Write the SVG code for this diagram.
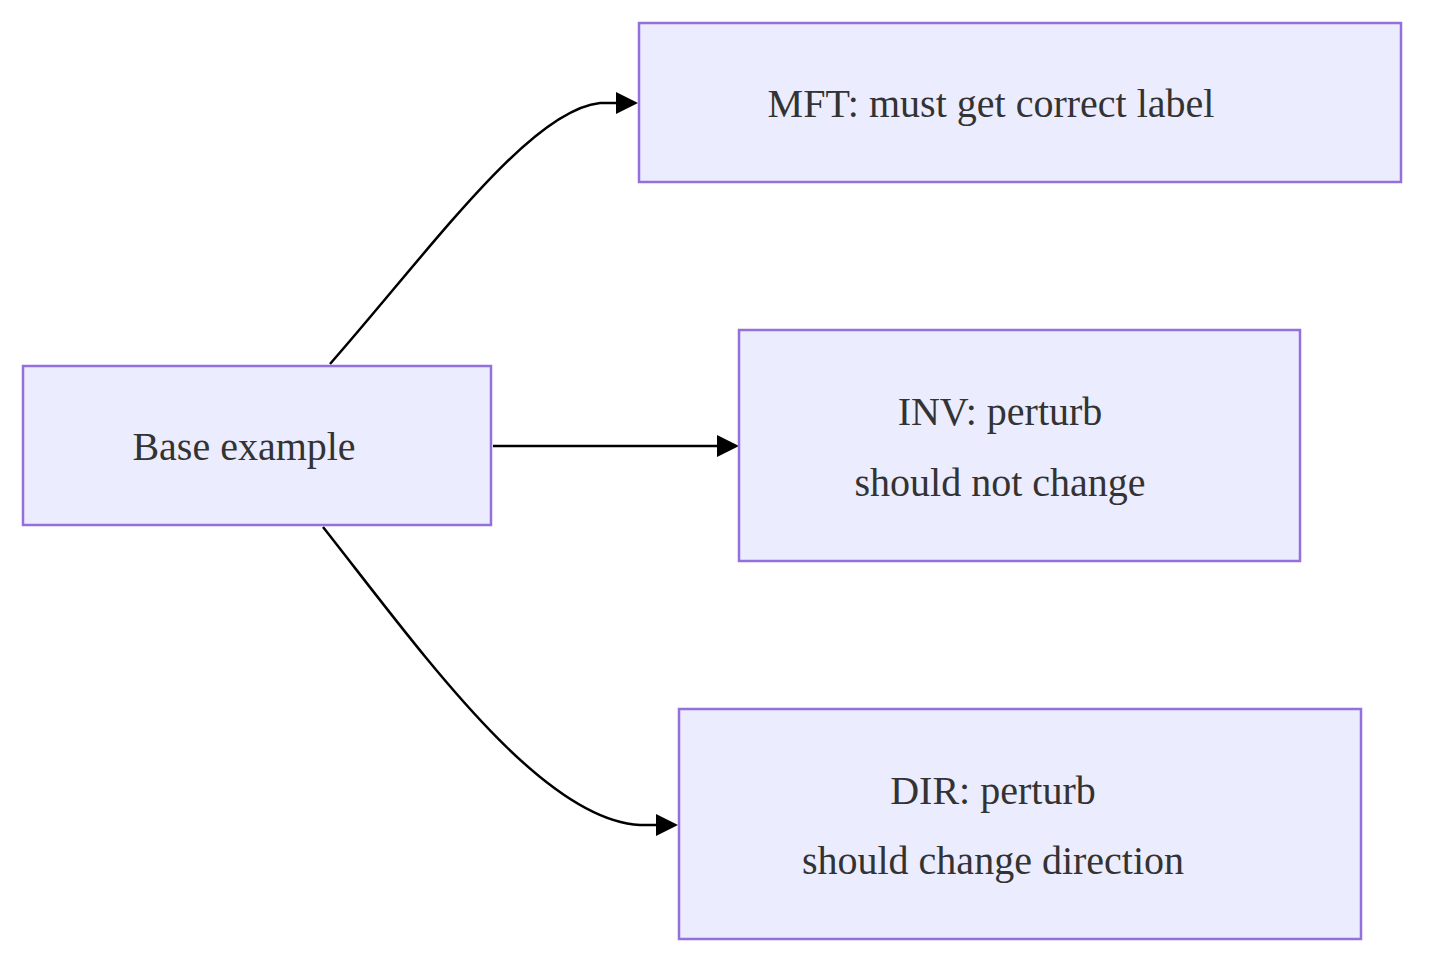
<svg xmlns="http://www.w3.org/2000/svg" width="1449" height="978" viewBox="0 0 1449 978">
<style>
.n{fill:#ECECFF;stroke:#9370DB;stroke-width:2.5}
.t{font-family:"Liberation Serif",serif;font-size:40px;fill:#333;text-anchor:middle}
.e{fill:none;stroke:#000;stroke-width:2.5}
</style>
<defs><marker id="a" markerUnits="userSpaceOnUse" markerWidth="24" markerHeight="24" refX="0" refY="11" orient="auto"><path d="M0,0 L22,11 L0,22 z" fill="#000"/></marker></defs>
<rect width="1449" height="978" fill="#fff"/>
<g id="connectors">
<path class="e" d="M330,364 C430,250 530,110 600,103 L616,103" marker-end="url(#a)"/>
<path class="e" d="M493,446 L717,446" marker-end="url(#a)"/>
<path class="e" d="M323,527 C420,650 540,820 640,825 L656,825" marker-end="url(#a)"/>
</g>
<g id="base"><rect class="n" x="23" y="366" width="468" height="159"/><text class="t" x="244" y="460">Base example</text></g>
<g id="mft"><rect class="n" x="639" y="23" width="762" height="159"/><text class="t" x="991" y="117">MFT: must get correct label</text></g>
<g id="inv"><rect class="n" x="739" y="330" width="561" height="231"/><text class="t" x="1000" y="425">INV: perturb</text><text class="t" x="1000" y="496">should not change</text></g>
<g id="dir"><rect class="n" x="679" y="709" width="682" height="230"/><text class="t" x="993" y="804">DIR: perturb</text><text class="t" x="993" y="874">should change direction</text></g>
</svg>
